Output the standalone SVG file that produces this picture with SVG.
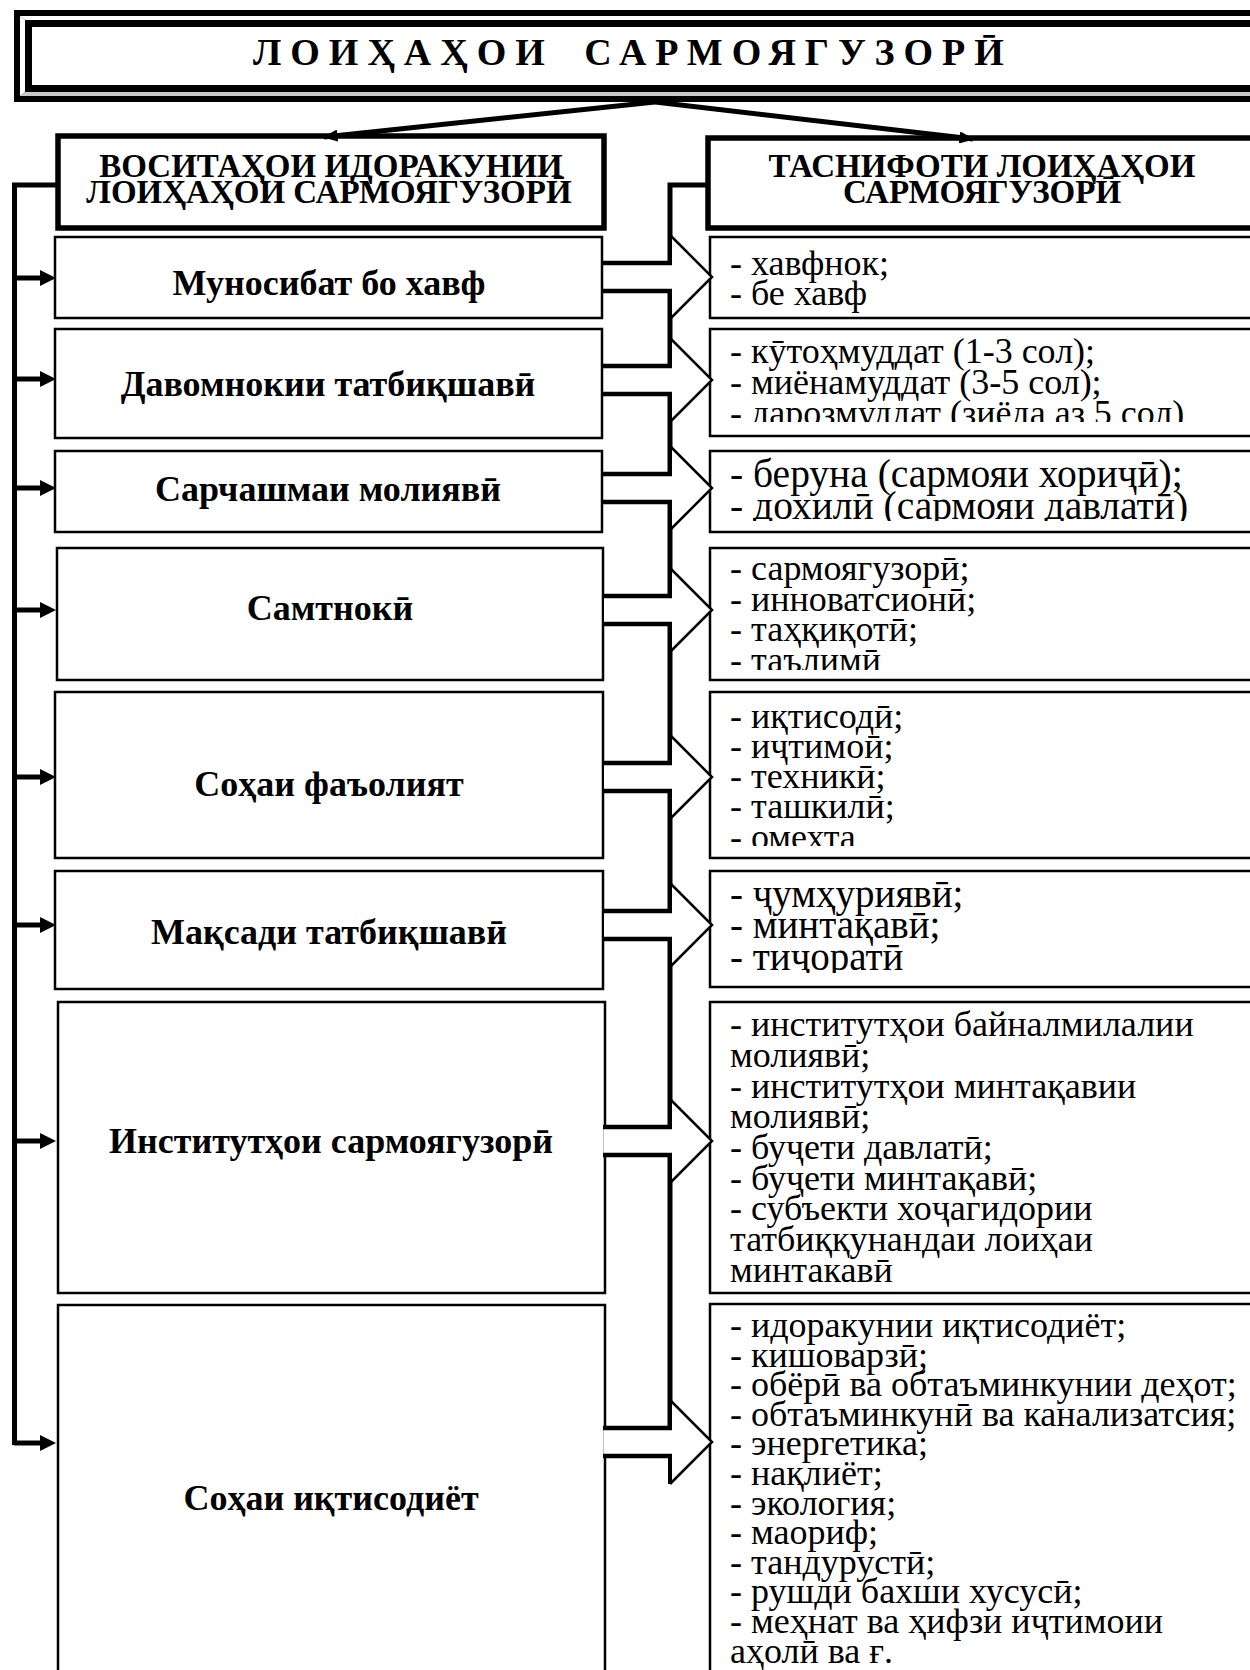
<svg xmlns="http://www.w3.org/2000/svg" xmlns:xlink="http://www.w3.org/1999/xlink" width="1250" height="1670" viewBox="0 0 1250 1670">
<style>
  .box { fill: #fff; stroke: #000; stroke-width: 2.5; }
  .hbox { fill: #fff; stroke: #000; stroke-width: 5.5; }
  .hdr { font-family: "Liberation Serif", "DejaVu Serif", serif; font-weight: bold; font-size: 33px; text-anchor: middle; fill: #000; }
  .ttl { font-family: "Liberation Serif", "DejaVu Serif", serif; font-weight: bold; font-size: 38px; fill: #000; letter-spacing: 9px; word-spacing: 12px; }
  .lbl { font-family: "Liberation Serif", "DejaVu Serif", serif; font-weight: bold; font-size: 36px; text-anchor: middle; fill: #000; }
  .itm { font-family: "Liberation Serif", "DejaVu Serif", serif; font-size: 36px; fill: #000; }
  .big { font-size: 39.5px; }
  .big2 { font-size: 39px; }
  .wire { fill: none; stroke: #000; stroke-width: 5; }
</style>
<defs>
  <marker id="ah" viewBox="0 0 10 8" refX="9" refY="4" markerWidth="16" markerHeight="12" markerUnits="userSpaceOnUse" orient="auto">
    <path d="M0,0 L10,4 L0,8 z" fill="#000"/>
  </marker>
  <g id="larrow">
    <line x1="14" y1="0" x2="42" y2="0" stroke="#000" stroke-width="5"/>
    <polygon points="40,-8 56,0 40,8" fill="#000"/>
  </g>
  <g id="barrow">
    <polygon points="604,-14 670,-14 670,-42 712,0 670,42 670,14 604,14" fill="#fff" stroke="none"/>
    <path d="M603,-14 H672 M603,14 H672" stroke="#000" stroke-width="4.5" fill="none"/>
    <path d="M670,-42 L712,0 L670,42" stroke="#000" stroke-width="2.5" fill="none"/>
    <path d="M670,-42 V-14 M670,14 V42" stroke="#000" stroke-width="4" fill="none"/>
  </g>
  <clipPath id="c2"><rect x="700" y="329" width="600" height="93"/></clipPath>
  <clipPath id="c3"><rect x="700" y="451" width="600" height="70"/></clipPath>
  <clipPath id="c4"><rect x="700" y="548" width="600" height="122"/></clipPath>
  <clipPath id="c5"><rect x="700" y="692" width="600" height="154"/></clipPath>
  <clipPath id="c6"><rect x="700" y="871" width="600" height="102"/></clipPath>
  <clipPath id="c7"><rect x="700" y="1002" width="600" height="281"/></clipPath>
</defs>

<rect x="0" y="0" width="1250" height="1670" fill="#fff"/>

<g id="title">
  <rect x="14" y="10" width="1300" height="92" fill="#000"/>
  <polygon points="20,16 1300,16 1300,20 25,20" fill="#fff"/>
  <polygon points="20,16 25,20 25,92 20,96" fill="#fff"/>
  <polygon points="20,96 25,92 1300,92 1300,96" fill="#c8c8c8"/>
  <rect x="32" y="27" width="1300" height="58" fill="#fff"/>
  <text class="ttl" x="253" y="65">ЛОИҲАҲОИ САРМОЯГУЗОРӢ</text>
</g>

<g id="header-left">
  <rect class="hbox" x="58" y="136" width="546" height="92"/>
  <text class="hdr" x="331" y="177">ВОСИТАҲОИ ИДОРАКУНИИ</text>
  <text class="hdr" x="329" y="203">ЛОИҲАҲОИ САРМОЯГУЗОРӢ</text>
</g>

<g id="header-right">
  <rect class="hbox" x="708" y="138" width="600" height="90"/>
  <text class="hdr" x="982" y="177">ТАСНИФОТИ ЛОИҲАҲОИ</text>
  <text class="hdr" x="982" y="203">САРМОЯГУЗОРӢ</text>
</g>

<g id="node-l1"><rect class="box" x="55" y="237" width="547" height="81"/><text class="lbl" x="329" y="295">Муносибат бо хавф</text></g>
<g id="node-l2"><rect class="box" x="55" y="329" width="547" height="109"/><text class="lbl" x="328" y="396">Давомнокии татбиқшавӣ</text></g>
<g id="node-l3"><rect class="box" x="55" y="451" width="547" height="81"/><text class="lbl" x="328" y="501">Сарчашмаи молиявӣ</text></g>
<g id="node-l4"><rect class="box" x="57" y="548" width="546" height="132"/><text class="lbl" x="330" y="620">Самтнокӣ</text></g>
<g id="node-l5"><rect class="box" x="55" y="692" width="548" height="166"/><text class="lbl" x="329" y="796">Соҳаи фаъолият</text></g>
<g id="node-l6"><rect class="box" x="55" y="871" width="548" height="118"/><text class="lbl" x="329" y="944">Мақсади татбиқшавӣ</text></g>
<g id="node-l7"><rect class="box" x="58" y="1002" width="547" height="291"/><text class="lbl" x="331" y="1153">Институтҳои сармоягузорӣ</text></g>
<g id="node-l8"><rect class="box" x="58" y="1305" width="547" height="420"/><text class="lbl" x="331" y="1510">Соҳаи иқтисодиёт</text></g>

<g id="node-r1"><rect class="box" x="710" y="237" width="600" height="81"/>
  <text class="itm" x="730" y="275">- хавфнок;</text>
  <text class="itm" x="730" y="305">- бе хавф</text>
</g>
<g id="node-r2"><rect class="box" x="710" y="329" width="600" height="107"/>
  <g clip-path="url(#c2)">
  <text class="itm" x="730" y="363">- кӯтоҳмуддат (1-3 сол);</text>
  <text class="itm" x="730" y="394">- миёнамуддат (3-5 сол);</text>
  <text class="itm" x="730" y="425">- дарозмуддат (зиёда аз 5 сол)</text>
  </g>
</g>
<g id="node-r3"><rect class="box" x="710" y="451" width="600" height="81"/>
  <g clip-path="url(#c3)">
  <text class="itm big" x="730" y="487">- беруна (сармояи хориҷӣ);</text>
  <text class="itm big" x="730" y="519">- дохилӣ (сармояи давлатӣ)</text>
  </g>
</g>
<g id="node-r4"><rect class="box" x="710" y="548" width="600" height="132"/>
  <g clip-path="url(#c4)">
  <text class="itm" x="730" y="580">- сармоягузорӣ;</text>
  <text class="itm" x="730" y="611">- инноватсионӣ;</text>
  <text class="itm" x="730" y="641">- таҳқиқотӣ;</text>
  <text class="itm" x="730" y="672">- таълимӣ</text>
  </g>
</g>
<g id="node-r5"><rect class="box" x="710" y="692" width="600" height="166"/>
  <g clip-path="url(#c5)">
  <text class="itm" x="730" y="728">- иқтисодӣ;</text>
  <text class="itm" x="730" y="758">- иҷтимоӣ;</text>
  <text class="itm" x="730" y="788">- техникӣ;</text>
  <text class="itm" x="730" y="818">- ташкилӣ;</text>
  <text class="itm" x="730" y="849">- омехта</text>
  </g>
</g>
<g id="node-r6"><rect class="box" x="710" y="871" width="600" height="116"/>
  <g clip-path="url(#c6)">
  <text class="itm big2" x="730" y="907">- ҷумҳуриявӣ;</text>
  <text class="itm big2" x="730" y="938">- минтақавӣ;</text>
  <text class="itm big2" x="730" y="970">- тиҷоратӣ</text>
  </g>
</g>
<g id="node-r7"><rect class="box" x="710" y="1002" width="600" height="291"/>
  <g clip-path="url(#c7)">
  <text class="itm" x="730" y="1036">- институтҳои байналмилалии</text>
  <text class="itm" x="730" y="1067">молиявӣ;</text>
  <text class="itm" x="730" y="1098">- институтҳои минтақавии</text>
  <text class="itm" x="730" y="1128">молиявӣ;</text>
  <text class="itm" x="730" y="1159">- буҷети давлатӣ;</text>
  <text class="itm" x="730" y="1190">- буҷети минтақавӣ;</text>
  <text class="itm" x="730" y="1220">- субъекти хоҷагидории</text>
  <text class="itm" x="730" y="1251">татбиққунандаи лоиҳаи</text>
  <text class="itm" x="730" y="1282">минтакавӣ</text>
  </g>
</g>
<g id="node-r8"><rect class="box" x="710" y="1304" width="600" height="420"/>
  <text class="itm" x="730" y="1337">- идоракунии иқтисодиёт;</text>
  <text class="itm" x="730" y="1367">- кишоварзӣ;</text>
  <text class="itm" x="730" y="1396">- обёрӣ ва обтаъминкунии деҳот;</text>
  <text class="itm" x="730" y="1426">- обтаъминкунӣ ва канализатсия;</text>
  <text class="itm" x="730" y="1455">- энергетика;</text>
  <text class="itm" x="730" y="1485">- нақлиёт;</text>
  <text class="itm" x="730" y="1515">- экология;</text>
  <text class="itm" x="730" y="1544">- маориф;</text>
  <text class="itm" x="730" y="1574">- тандурустӣ;</text>
  <text class="itm" x="730" y="1603">- рушди бахши хусусӣ;</text>
  <text class="itm" x="730" y="1633">- меҳнат ва ҳифзи иҷтимоии</text>
  <text class="itm" x="730" y="1663">аҳолӣ ва ғ.</text>
</g>

<g id="connectors">
  <path class="wire" d="M655,102 L324,137" marker-end="url(#ah)"/>
  <path class="wire" d="M655,102 L973,139" marker-end="url(#ah)"/>
  <path class="wire" d="M58,185 H14.5 V1445"/>
  <use xlink:href="#larrow" y="278"/>
  <use xlink:href="#larrow" y="379"/>
  <use xlink:href="#larrow" y="488"/>
  <use xlink:href="#larrow" y="610"/>
  <use xlink:href="#larrow" y="777"/>
  <use xlink:href="#larrow" y="925"/>
  <use xlink:href="#larrow" y="1141"/>
  <use xlink:href="#larrow" y="1443"/>
  <path class="wire" d="M708,185 H670 V1442"/>
  <use xlink:href="#barrow" y="277"/>
  <use xlink:href="#barrow" y="380"/>
  <use xlink:href="#barrow" y="488"/>
  <use xlink:href="#barrow" y="610"/>
  <use xlink:href="#barrow" y="777"/>
  <use xlink:href="#barrow" y="925"/>
  <use xlink:href="#barrow" y="1141"/>
  <use xlink:href="#barrow" y="1442"/>
</g>
</svg>
